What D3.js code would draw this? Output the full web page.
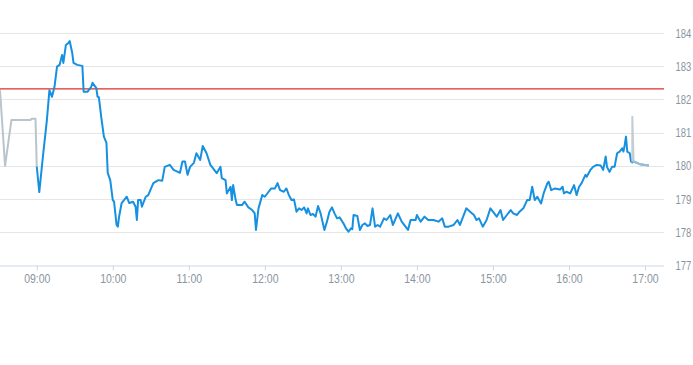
<!DOCTYPE html>
<html>
<head>
<meta charset="utf-8">
<script src="https://cdn.jsdelivr.net/npm/d3@7"></script>
<style>
  html, body { margin: 0; padding: 0; background: #fff; }
  svg { display: block; }
</style>
</head>
<body>
<svg id="chart" width="693" height="365"></svg>
<script>
// ---- data ----
const xTickLabels = ["09:00","10:00","11:00","12:00","13:00","14:00","15:00","16:00","17:00"];
const yTickValues = [177,178,179,180,181,182,183,184];
const previousClose = 182.32;

const preTimes  = ["08:31","08:35","08:40","08:55","08:56","08:59","09:00"];
const preValues = [182.28,180.00,181.38,181.38,181.42,181.42,179.98];

const mainTimes = [
"09:00","09:02","09:05","09:08","09:10","09:12","09:14","09:16","09:18","09:20",
"09:21","09:23","09:25","09:26","09:28","09:29","09:32","09:36","09:37","09:40",
"09:43","09:44","09:47","09:48","09:49","09:51","09:53","09:55","09:56","09:58",
"10:00","10:01","10:03","10:04","10:05","10:07","10:11","10:13","10:16","10:18",
"10:19","10:20","10:22","10:23","10:26","10:28","10:32","10:36","10:39","10:41",
"10:45","10:48","10:53","10:55","10:57","10:59","11:01","11:04","11:06","11:09",
"11:11","11:14","11:17","11:19","11:22","11:25","11:26","11:29","11:30","11:33",
"11:34","11:35","11:37","11:38","11:42","11:44","11:47","11:50","11:52","11:53",
"11:55","11:58","12:00","12:03","12:05","12:08","12:10","12:12","12:15","12:17",
"12:19","12:21","12:23","12:25","12:27","12:29","12:31","12:33","12:34","12:36",
"12:38","12:40","12:42","12:44","12:47","12:49","12:51","12:53","12:55","12:57",
"12:59","13:02","13:04","13:06","13:08","13:09","13:10","13:13","13:15","13:17",
"13:19","13:21","13:23","13:25","13:27","13:29","13:31","13:34","13:36","13:39",
"13:41","13:45","13:48","13:53","13:55","13:59","14:00","14:03","14:06","14:09",
"14:13","14:17","14:20","14:22","14:25","14:29","14:32","14:34","14:39","14:42",
"14:45","14:47","14:49","14:52","14:55","14:58","15:00","15:03","15:06","15:08",
"15:11","15:14","15:16","15:19","15:21","15:24","15:27","15:29","15:31","15:33",
"15:35","15:38","15:40","15:43","15:44","15:46","15:49","15:53","15:55","15:56",
"15:58","16:01","16:04","16:06","16:08","16:10","16:13","16:14","16:17","16:19",
"16:22","16:25","16:27","16:29","16:30","16:32","16:34","16:36","16:38","16:40",
"16:42","16:43","16:44","16:45","16:46","16:48","16:49","16:50","16:51","16:56",
"17:03"];
const mainValues = [
179.98,179.21,180.33,181.38,182.28,182.08,182.38,182.99,183.04,183.34,
183.10,183.64,183.70,183.76,183.40,183.10,183.04,183.01,182.23,182.23,
182.38,182.50,182.34,182.08,182.07,181.44,180.88,180.69,179.79,179.57,
178.97,178.92,178.22,178.17,178.47,178.88,179.07,178.88,178.92,178.77,
178.37,178.97,178.97,178.77,179.07,179.12,179.48,179.57,179.55,179.97,
180.03,179.88,179.79,180.13,180.13,179.73,179.97,180.09,180.38,180.18,
180.60,180.38,180.03,179.93,179.78,179.97,179.63,179.57,179.17,179.37,
178.97,179.42,178.97,178.82,178.82,178.92,178.75,178.67,178.57,178.07,
178.72,179.12,179.07,179.22,179.32,179.32,179.48,179.27,179.22,179.32,
179.12,178.97,178.99,178.62,178.72,178.67,178.75,178.57,178.72,178.52,
178.55,178.47,178.79,178.57,178.07,178.32,178.62,178.75,178.57,178.42,
178.45,178.27,178.12,178.02,178.12,178.09,178.52,178.49,178.07,178.22,
178.27,178.19,178.22,178.72,178.17,178.22,178.17,178.42,178.37,178.52,
178.22,178.57,178.32,178.07,178.37,178.37,178.52,178.32,178.47,178.37,
178.37,178.32,178.42,178.17,178.17,178.22,178.37,178.22,178.72,178.62,
178.52,178.37,178.42,178.17,178.37,178.72,178.62,178.47,178.67,178.37,
178.52,178.67,178.57,178.52,178.62,178.72,178.97,178.97,179.37,178.97,
179.07,178.87,179.17,179.48,179.52,179.27,179.32,179.29,179.37,179.17,
179.22,179.17,179.42,179.12,179.37,179.48,179.73,179.67,179.88,179.97,
180.03,180.01,179.88,180.28,179.97,179.82,179.97,179.97,180.38,180.43,
180.53,180.43,180.63,180.88,180.43,180.38,180.13,180.10,180.13,180.05,
180.01];

const postTimes  = ["16:50","16:50","16:51","16:56","17:03"];
const postValues = [180.10,181.48,180.13,180.05,180.01];

// ---- chart ----
const plotLeft = 0, plotRight = 664, plotTop = 33, plotBottom = 265.5;
const parse = d3.timeParse("%H:%M");
const fmt = d3.timeFormat("%H:%M");

const x = d3.scaleTime()
  .domain([parse("08:31"), parse("17:15")])
  .range([plotLeft, plotRight]);
const y = d3.scaleLinear()
  .domain([177, 184])
  .range([plotBottom, plotTop]);

const svg = d3.select("#chart");
const font = "'Liberation Sans', Arial, sans-serif";
const labelColor = "#8a95a0";

// grid
svg.append("g").selectAll("line")
  .data(yTickValues.filter(v => v !== 177))
  .join("line")
  .attr("x1", plotLeft).attr("x2", plotRight)
  .attr("y1", d => Math.round(y(d)) + 0.5).attr("y2", d => Math.round(y(d)) + 0.5)
  .attr("stroke", "#e6e6e6").attr("stroke-width", 1);

// y labels (condensed look via horizontal scale)
svg.append("g").selectAll("text")
  .data(yTickValues)
  .join("text")
  .attr("transform", d => `translate(675.5,${y(d) + 4.5}) scale(0.76,1)`)
  .attr("font-family", font)
  .attr("font-size", 12.5)
  .attr("fill", labelColor)
  .text(d => d);

// x axis
const xAxis = d3.axisBottom(x)
  .tickValues(xTickLabels.map(parse))
  .tickFormat(fmt)
  .tickSize(5)
  .tickSizeOuter(0);
const gx = svg.append("g")
  .attr("transform", `translate(0,${Math.round(plotBottom) - 0.5})`)
  .call(xAxis);
gx.select(".domain").attr("stroke", "#ccd6eb").attr("d", `M${plotLeft},0.5H${plotRight}`);
gx.selectAll(".tick line").attr("stroke", "#ccd6eb");
gx.selectAll(".tick text")
  .attr("font-family", font)
  .attr("font-size", 12.5)
  .attr("fill", labelColor)
  .attr("dy", "0.95em")
  .attr("y", 6)
  .attr("transform", "scale(0.84,1)");

// previous close
svg.append("line")
  .attr("x1", plotLeft).attr("x2", plotRight)
  .attr("y1", y(previousClose))
  .attr("y2", y(previousClose))
  .attr("stroke", "#dd2f2a").attr("stroke-width", 1.2);

const line = d3.line()
  .x(d => x(d[0]))
  .y(d => y(d[1]));

const pre = preTimes.map((t, i) => [parse(t), preValues[i]]);
const main = mainTimes.map((t, i) => [parse(t), mainValues[i]]);
const post = postTimes.map((t, i) => [parse(t), postValues[i]]);

svg.append("path").datum(pre).attr("d", line)
  .attr("fill", "none").attr("stroke", "#b9c4cc").attr("stroke-width", 2)
  .attr("stroke-linejoin", "round");
svg.append("path").datum(main).attr("d", line)
  .attr("fill", "none").attr("stroke", "#1690e0").attr("stroke-width", 2)
  .attr("stroke-linejoin", "round");
svg.append("path").datum(post).attr("d", line)
  .attr("fill", "none").attr("stroke", "#b9c4cc").attr("stroke-width", 2)
  .attr("stroke-opacity", 0.85)
  .attr("stroke-linejoin", "round");
</script>
</body>
</html>
